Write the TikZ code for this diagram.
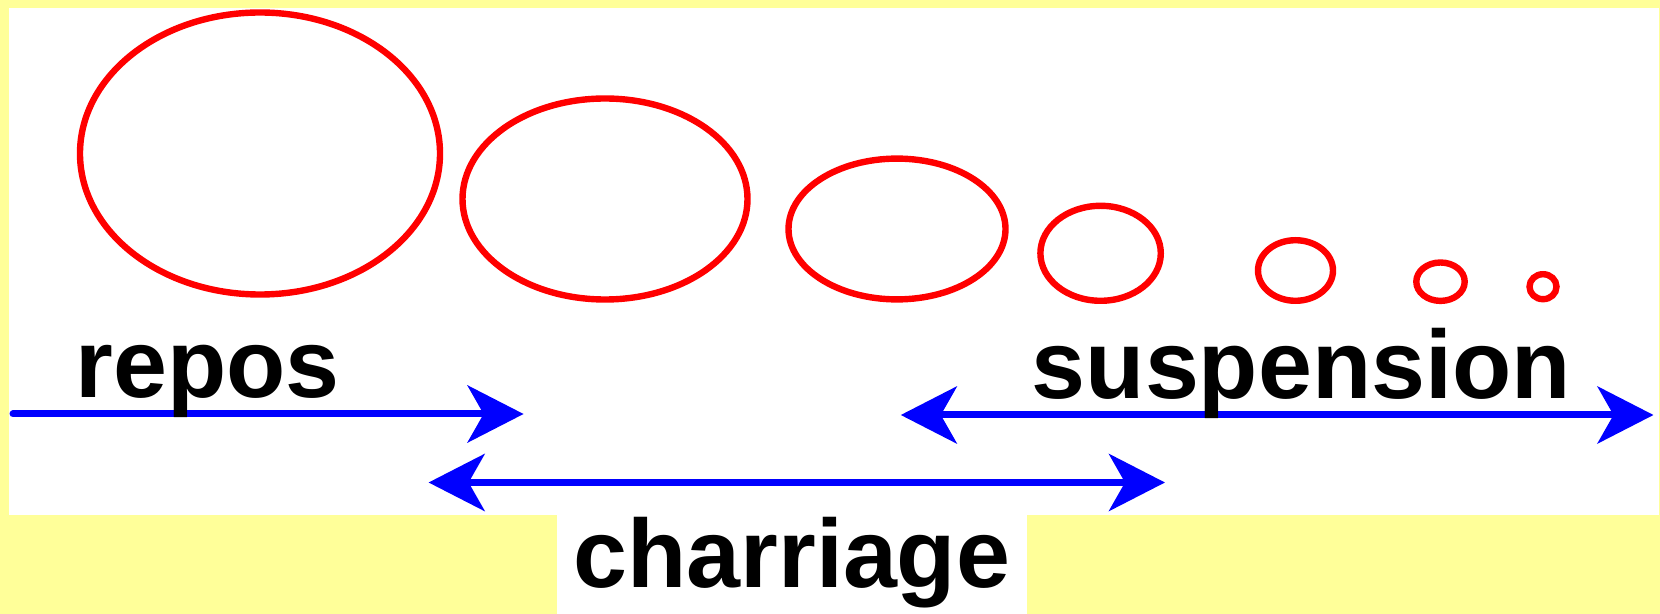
\documentclass[tikz,border=0pt]{standalone}
\usepackage{fontspec}
\setmainfont{Liberation Sans}
\usetikzlibrary{arrows.meta,shapes.geometric}
\definecolor{bgyellow}{RGB}{255,255,153}
\begin{document}
\begin{tikzpicture}[x=0.5pt,y=-0.5pt,
  >={Stealth[length=28pt,width=28.5pt,inset=8pt]},
  bubble/.style={draw=red,line width=3.2pt,ellipse,inner sep=0pt,outer sep=0pt},
  spanline/.style={draw=blue,line width=3.5pt},
  word/.style={font=\fontsize{48.5}{48.5}\selectfont\bfseries,inner sep=0pt,anchor=base,text=black}]
\useasboundingbox (0,0) rectangle (1660,614);
\fill[bgyellow] (0,0) rectangle (1660,614);
\fill[white] (8.5,8) rectangle (1658.5,515);
\fill[white] (556.5,514) rectangle (1027,614);
% bubbles
\node[bubble,minimum width=180pt,minimum height=141pt] (b1) at (260,153.5) {};
\node[bubble,minimum width=142.5pt,minimum height=100.5pt] (b2) at (605,199) {};
\node[bubble,minimum width=108.5pt,minimum height=70.4pt] (b3) at (897,229) {};
\node[bubble,minimum width=60.2pt,minimum height=47.5pt] (b4) at (1100.6,253.3) {};
\node[bubble,minimum width=37.5pt,minimum height=30.3pt] (b5) at (1295.5,270.5) {};
\node[bubble,minimum width=24.2pt,minimum height=19.2pt] (b6) at (1440.5,281.7) {};
\node[bubble,minimum width=13.5pt,minimum height=12.5pt] (b7) at (1543,286.7) {};
% ranges
\coordinate (r0) at (13,414);
\coordinate (r1) at (523.6,414);
\coordinate (s0) at (900.8,415);
\coordinate (s1) at (1653.5,415);
\coordinate (c0) at (428.6,482.5);
\coordinate (c1) at (1165,482.5);
\draw[spanline,line cap=round,->] (r0) -- (r1);
\draw[spanline,<->] (s0) -- (s1);
\draw[spanline,<->] (c0) -- (c1);
% words
\node[word] (repos) at (207.5,398) {repos};
\node[word] (suspension) at (1301.3,399) {suspension};
\node[word] (charriage) at (791.8,587) {charriage};
\end{tikzpicture}
\end{document}
